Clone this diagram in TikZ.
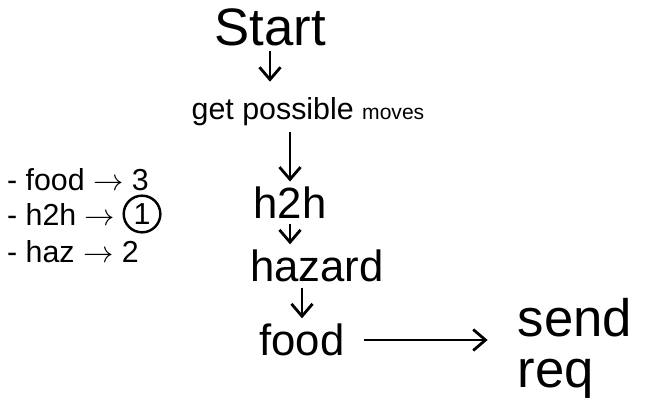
\documentclass[tikz,border=0pt]{standalone}
\usepackage{fontspec}
\setmainfont{Liberation Sans}
\usetikzlibrary{positioning, arrows.meta}
\tikzset{stage/.style={font=\Huge, inner sep=3pt},
  flow/.style={->, line width=1.6pt, >={Straight Barb[length=7pt, width=12pt]}},
  prio/.style={font=\LARGE, inner sep=1pt, anchor=west}}

\begin{document}
\begin{tikzpicture}[x=0.02cm, y=-0.02cm]
\useasboundingbox (0,0) rectangle (665,405);

\node[stage, font=\fontsize{30}{34}\selectfont] (start) at (270,27) {Start};
\node[stage, font=\LARGE] (moves) at (308,112) {get possible {\large moves}};
\node[stage] (htoh) at (290,203) {h2h};
\node[stage] (hazard) at (317,266) {hazard};
\node[stage] (food) at (302,340) {food};
\node[stage, font=\fontsize{30}{29}\selectfont, align=left] (sendreq) at (575,348) {send\\req};

\draw[flow, shorten >=6pt] (start) -- (start |- moves.north);
\draw[flow] (htoh |- moves.south) -- (htoh);
\draw[flow] (htoh) -- (htoh |- hazard.north);
\draw[flow] (food |- hazard.south) -- (food);
\draw[flow, shorten >=14pt, shorten <=8pt] (food) -- (food -| sendreq.west);

% priorities
\node[prio] (pfood) at (5,180) {- food $\rightarrow$ 3};
\node[prio] (phtoh) at (5,214) {- h2h $\rightarrow$};
\node[draw, circle, line width=1.4pt, font=\LARGE, inner sep=2pt, right=3pt of phtoh] (pone) {1};
\node[prio] (phaz) at (5,252) {- haz $\rightarrow$ 2};
\end{tikzpicture}
\end{document}
